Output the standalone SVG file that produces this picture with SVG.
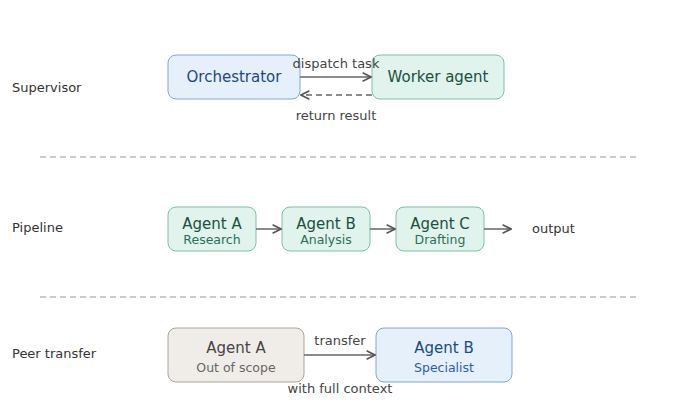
<svg xmlns="http://www.w3.org/2000/svg" width="680" height="420" viewBox="0 0 680 420">
<style>
text{font-family:"DejaVu Sans",sans-serif;}
.lbl{font-size:13px;fill:#333;}
.el{font-size:13px;fill:#444;text-anchor:middle;}
.t{font-size:15px;text-anchor:middle;}
.s{font-size:12.5px;text-anchor:middle;}
.blue{fill:#e6f0fb;stroke:#7fa8d6;}
.green{fill:#e0f3ec;stroke:#7fbfa5;}
.gray{fill:#f0ede8;stroke:#aaa69e;}
.ln{stroke:#666;stroke-width:1.5;fill:none;}
.sep{stroke:#bbb;stroke-width:1.5;stroke-dasharray:6 4;}
</style>
<defs><marker id="a" viewBox="0 0 10 10" refX="9" refY="5" markerWidth="7" markerHeight="7" orient="auto-start-reverse"><path d="M1,1 L9,5 L1,9" fill="none" stroke="#555" stroke-width="1.5"/></marker></defs>
<text class="lbl" x="12" y="92">Supervisor</text>
<text class="lbl" x="12" y="232">Pipeline</text>
<text class="lbl" x="12" y="358">Peer transfer</text>
<line class="sep" x1="40" y1="157" x2="640" y2="157"/>
<line class="sep" x1="40" y1="297" x2="640" y2="297"/>
<g id="orchestrator"><rect class="blue" x="168" y="55" width="132" height="44" rx="8"/><text class="t" x="234" y="82" fill="#1a4a80">Orchestrator</text></g>
<g id="worker"><rect class="green" x="372" y="55" width="132" height="44" rx="8"/><text class="t" x="438" y="82" fill="#1a5040">Worker agent</text></g>
<g id="agentA1"><rect class="green" x="168" y="207" width="88" height="44" rx="8"/><text class="t" x="212" y="229" fill="#1a5040">Agent A</text><text class="s" x="212" y="244" fill="#2a7058">Research</text></g>
<g id="agentB1"><rect class="green" x="282" y="207" width="88" height="44" rx="8"/><text class="t" x="326" y="229" fill="#1a5040">Agent B</text><text class="s" x="326" y="244" fill="#2a7058">Analysis</text></g>
<g id="agentC1"><rect class="green" x="396" y="207" width="88" height="44" rx="8"/><text class="t" x="440" y="229" fill="#1a5040">Agent C</text><text class="s" x="440" y="244" fill="#2a7058">Drafting</text></g>
<g id="agentA2"><rect class="gray" x="168" y="328" width="136" height="54" rx="8"/><text class="t" x="236" y="353" fill="#444">Agent A</text><text class="s" x="236" y="372" fill="#666">Out of scope</text></g>
<g id="agentB2"><rect class="blue" x="376" y="328" width="136" height="54" rx="8"/><text class="t" x="444" y="353" fill="#1a4a80">Agent B</text><text class="s" x="444" y="372" fill="#2a60a8">Specialist</text></g>
<g id="connectors">
<line class="ln" x1="300" y1="77" x2="371" y2="77" marker-end="url(#a)"/>
<line class="ln" x1="372" y1="95" x2="301" y2="95" stroke-dasharray="6 4" marker-end="url(#a)"/>
<line class="ln" x1="256" y1="229" x2="281" y2="229" marker-end="url(#a)"/>
<line class="ln" x1="370" y1="229" x2="395" y2="229" marker-end="url(#a)"/>
<line class="ln" x1="484" y1="229" x2="511" y2="229" marker-end="url(#a)"/>
<line class="ln" x1="304" y1="355" x2="375" y2="355" marker-end="url(#a)"/>
<text class="el" x="336" y="68">dispatch task</text>
<text class="el" x="336" y="120">return result</text>
<text class="lbl" x="532" y="233">output</text>
<text class="el" x="340" y="345">transfer</text>
<text class="el" x="340" y="393">with full context</text>
</g>
</svg>
